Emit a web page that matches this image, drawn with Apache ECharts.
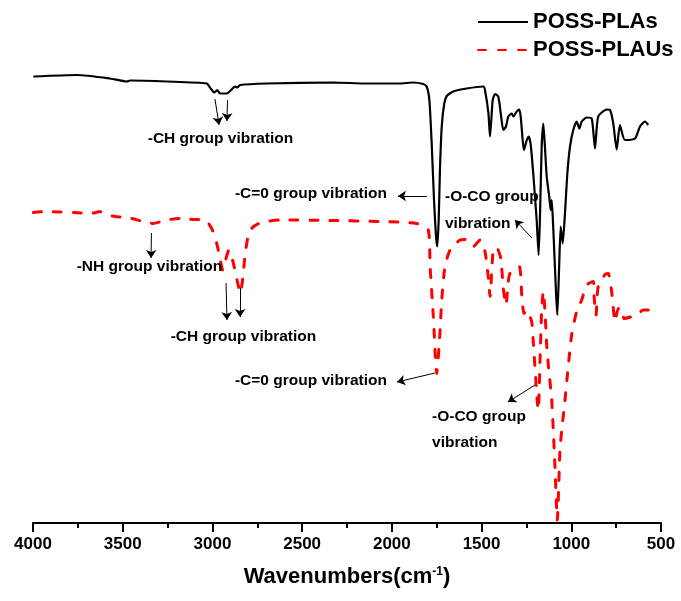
<!DOCTYPE html>
<html>
<head>
<meta charset="utf-8">
<script src="https://cdn.jsdelivr.net/npm/echarts@6/dist/echarts.min.js"></script>
<style>
html,body{margin:0;padding:0;background:#fff;}
#chart{width:681px;height:601px;}
</style>
</head>
<body>
<div id="chart"></div>
<script>
// ---- Data (wavenumber in cm-1, transmittance in arbitrary offset units) ----
var seriesNames = ['POSS-PLAs', 'POSS-PLAUs'];
var xTicks = [4000, 3500, 3000, 2500, 2000, 1500, 1000, 500];

var plaWn = [3998,3756,3571,3478,3459,3255,3032,3010,2990,2973,2958,2920,2893,2874,2861,2846,2698,2328,2140,1955,1882,1825,1806,1791,1778,1765,1754,1747,1739,1732,1722,1708,1694,1658,1583,1490,1481,1462,1453,1438,1425,1407,1393,1379,1364,1351,1332,1323,1304,1290,1282,1271,1264,1248,1237,1226,1212,1193,1182,1174,1165,1156,1147,1137,1123,1115,1109,1100,1085,1078,1067,1059,1048,1035,1022,1007,989,970,955,942,914,886,868,850,803,784,766,747,729,701,645,617,589,571];
var plaT = [89.3,89.6,88.9,88.3,88.5,88.3,87.9,86.9,86.1,86.6,85.9,85.9,86.7,87.3,87.1,87.6,87.9,88.1,87.9,87.9,88.1,87.8,87.3,84.6,75.9,64.6,57.3,55.3,60.6,70.6,79.3,83.9,85.4,86.3,86.9,87.3,86.6,82.0,77.3,84.6,85.8,85.3,81.9,78.6,79.3,81.3,81.9,81.3,82.3,82.7,81.3,76.6,74.6,76.6,77.3,75.6,69.9,60.6,53.6,62.0,75.3,79.9,75.3,69.3,65.3,62.6,64.6,58.6,46.0,41.6,52.0,59.3,55.9,62.0,69.9,75.3,78.6,80.3,78.9,80.3,81.1,80.9,74.9,81.3,82.7,82.6,79.9,74.7,79.6,76.6,76.9,79.3,80.3,79.6];

var plauWn = [3998,3924,3853,3766,3682,3638,3627,3604,3543,3450,3387,3331,3255,3181,3107,3041,3004,2976,2958,2943,2927,2908,2885,2863,2844,2832,2818,2802,2779,2735,2623,2345,2066,1862,1797,1787,1769,1750,1732,1722,1704,1676,1620,1592,1546,1509,1481,1462,1453,1435,1416,1393,1379,1364,1351,1342,1290,1276,1264,1248,1221,1212,1184,1174,1165,1156,1147,1137,1128,1109,1091,1078,1063,1053,1035,1017,998,970,942,914,877,873,862,850,812,794,775,756,738,719,706,636,599,571];
var plauT = [62.1,62.3,62.2,62.1,61.9,62.2,62.3,61.8,61.3,60.9,60.3,59.9,60.6,60.9,60.7,60.6,58.9,55.9,53.0,50.6,52.6,54.6,52.2,48.6,46.0,48.6,53.6,57.2,59.0,60.0,60.6,60.5,60.3,59.9,58.6,51.3,41.3,29.9,37.9,44.6,51.3,54.6,56.6,56.7,55.3,56.6,54.3,48.9,45.3,54.6,55.1,52.9,46.9,43.6,48.3,49.9,51.3,45.6,41.9,42.6,40.3,36.3,22.6,32.6,42.6,46.3,42.6,35.6,31.6,24.6,11.3,0.6,14.6,18.6,24.6,31.3,37.6,42.3,44.6,47.6,48.3,45.3,41.6,47.3,49.7,49.9,46.3,40.3,42.9,42.9,40.9,41.6,42.6,42.6];

// ---- Annotations (in data units) ----
var annoText = ['-CH group vibration', '-C=0 group vibration', '-O-CO group', 'vibration', '-NH group vibration', '-CH group vibration', '-C=0 group vibration', '-O-CO group', 'vibration'];
var annoWn = [2955, 2451, 1704, 1704, 3351, 2827, 2451, 1776, 1776];
var annoT = [76.8, 65.8, 65.2, 59.8, 51.2, 37.2, 28.4, 21.2, 16.0];
var annoAlign = ['center', 'center', 'left', 'left', 'center', 'center', 'center', 'left', 'left'];

var arrowFromWn = [2986, 2916, 1804, 1219, 3340, 2924, 2846, 1760, 1202];
var arrowFromT  = [84.8, 84.6, 65.4, 57.0, 58.0, 48.0, 47.0, 30.0, 27.6];
var arrowToWn   = [2963, 2919, 1966, 1314, 3342, 2919, 2846, 1971, 1353];
var arrowToT    = [79.6, 80.4, 65.4, 60.6, 53.0, 40.6, 41.2, 28.2, 24.2];

function zip(a, b) { var r = []; for (var i = 0; i < a.length; i++) r.push([a[i], b[i]]); return r; }

var FONT = '"Liberation Sans", Arial, Helvetica, sans-serif';
var annoData = annoText.map(function (t, i) {
  return {
    value: [annoWn[i], annoT[i]],
    label: {
      show: true, formatter: t, position: 'inside', align: annoAlign[i], verticalAlign: 'middle',
      fontFamily: FONT, fontSize: 15.5, fontWeight: 'bold', color: '#000',
      textBorderWidth: 0, textBorderColor: 'transparent', textShadowBlur: 0
    }
  };
});
var arrowData = arrowFromWn.map(function (w, i) {
  return [{ coord: [w, arrowFromT[i]] }, { coord: [arrowToWn[i], arrowToT[i]] }];
});

var chart = echarts.init(document.getElementById('chart'), null, { renderer: 'canvas' });
chart.setOption({
  animation: false,
  backgroundColor: '#ffffff',
  grid: { left: 33, right: 20, top: 23, bottom: 78, containLabel: false },
  legend: {
    data: seriesNames,
    orient: 'vertical',
    left: 477, top: 11,
    padding: 0,
    itemWidth: 50, itemHeight: 14, itemGap: 6,
    itemStyle: { opacity: 0 },
    textStyle: { fontFamily: FONT, fontSize: 22, fontWeight: 'bold', color: '#000', lineHeight: 22 }
  },
  xAxis: {
    type: 'value', inverse: true, min: 500, max: 4000, interval: 500,
    name: 'Wavenumbers(cm{sup|-1})',
    nameLocation: 'middle', nameGap: 43,
    nameTextStyle: {
      fontFamily: FONT, fontSize: 22, fontWeight: 'bold', color: '#000',
      rich: { sup: { fontFamily: FONT, fontSize: 12, fontWeight: 'bold', color: '#000', padding: [0, 0, 10, 0] } }
    },
    axisLine: { show: true, lineStyle: { color: '#000', width: 2 } },
    axisTick: { show: true, inside: false, length: 9, lineStyle: { color: '#000', width: 2 } },
    minorTick: { show: true, splitNumber: 2, length: 5, lineStyle: { color: '#000', width: 2 } },
    splitLine: { show: false },
    axisLabel: {
      margin: 13, fontFamily: FONT, fontSize: 17, fontWeight: 'bold', color: '#000',
      formatter: function (v) { return xTicks.indexOf(v) >= 0 ? String(v) : ''; }
    }
  },
  yAxis: { type: 'value', min: 0, max: 100, show: false, splitLine: { show: false } },
  series: [
    {
      name: seriesNames[0], type: 'line', data: zip(plaWn, plaT),
      showSymbol: false, symbol: 'none', smooth: 0.2,
      lineStyle: { color: '#000', width: 2.2 }, itemStyle: { color: '#000' }, z: 3
    },
    {
      name: seriesNames[1], type: 'line', data: zip(plauWn, plauT),
      showSymbol: false, symbol: 'none', smooth: 0.2,
      lineStyle: { color: '#ff0000', width: 3, type: [8, 12], cap: 'round' }, itemStyle: { color: '#ff0000' }, z: 2
    },
    {
      name: 'annotations', type: 'scatter', data: annoData, symbolSize: 0, silent: true, z: 5,
      itemStyle: { color: '#000', opacity: 1 },
      markLine: {
        silent: true, animation: false,
        symbol: ['none', 'arrow'], symbolSize: 8,
        lineStyle: { color: '#000', width: 1, type: 'solid', opacity: 1 },
        label: { show: false },
        data: arrowData
      }
    }
  ]
});
</script>
</body>
</html>
